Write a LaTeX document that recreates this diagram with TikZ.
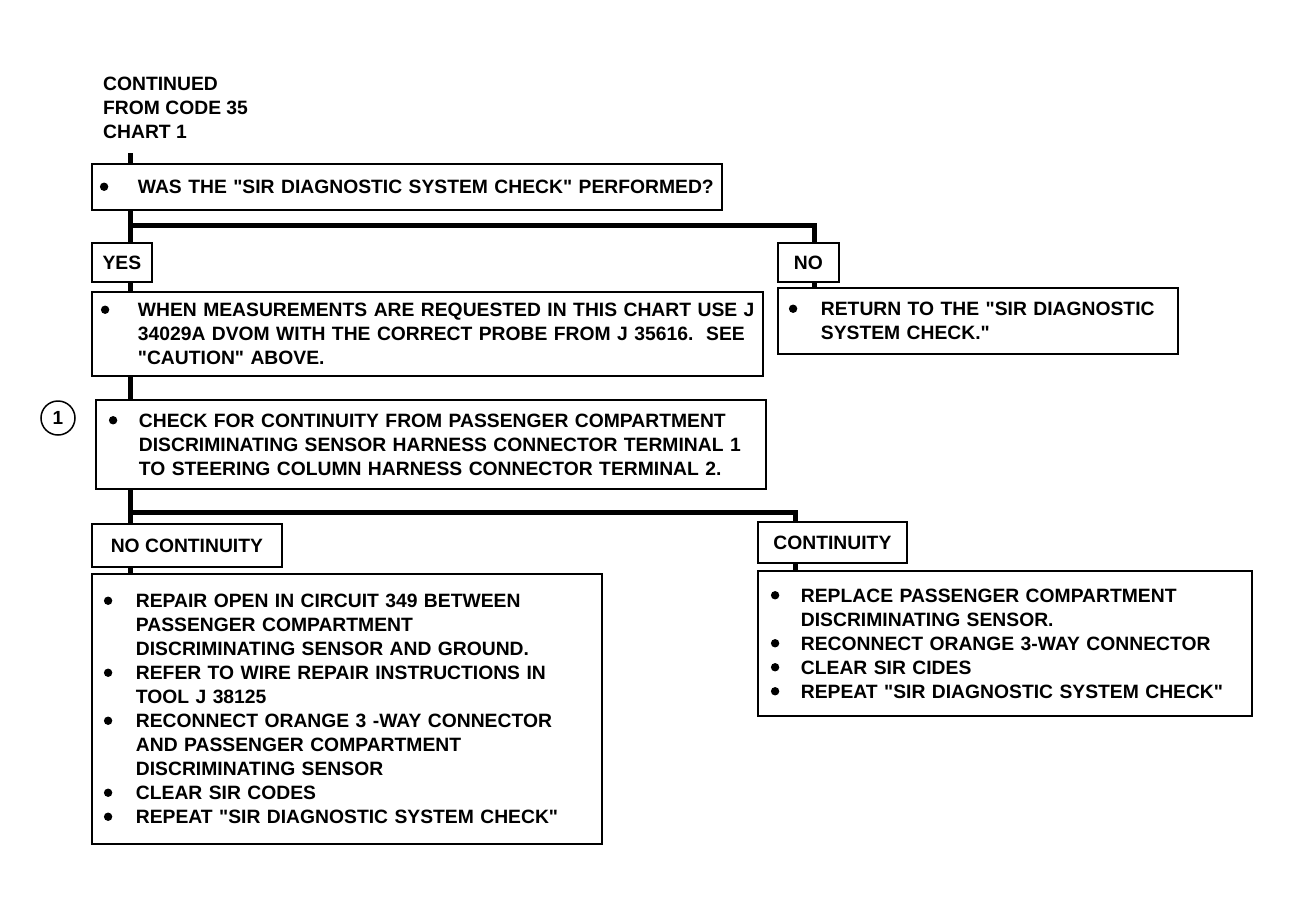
\documentclass[tikz,border=0pt]{standalone}
\usepackage{fontspec}
\setmainfont{Liberation Sans}
\newcommand\txt{\bfseries\fontsize{19.3}{24}\selectfont}
\newcommand\bu[1]{\makebox[#1][l]{\tikz[baseline=0pt]\fill (4.2pt,6.8pt) circle[radius=4.2pt];}}
\newcommand\ind[1]{\hspace*{#1}}
\newcommand\qq{\textquotedbl}
\begin{document}
\begin{tikzpicture}[x=1pt,y=-1pt]
\tikzset{
  box/.style={draw, line width=1.8pt, rectangle, anchor=north west, align=left, inner ysep=0pt, font=\txt},
  lab/.style={draw, line width=1.8pt, rectangle, anchor=north west, inner sep=0pt, font=\txt},
  trunk/.style={line width=5pt},
}
\fill[white] (0,0) rectangle (1290,921);
\useasboundingbox (0,0) rectangle (1290,921);

% header
\node[anchor=north west, inner sep=0pt, align=left, font=\txt] (head) at (103,77)
  {CONTINUED\\FROM CODE 35\\CHART 1};

% boxes
\node[box, inner xsep=8pt, text width=614pt, minimum height=46pt] (q1) at (91,163)
  {\mbox{\bu{38pt}WAS THE \qq SIR DIAGNOSTIC SYSTEM CHECK\qq{} PERFORMED?}};
\node[lab, minimum width=60pt, minimum height=39pt] (yes) at (91,242) {YES};
\node[lab, minimum width=61pt, minimum height=39pt] (no) at (777,242) {NO};
\node[box, inner xsep=9pt, text width=653pt, minimum height=84pt] (q2) at (91,291)
  {\mbox{\bu{37pt}WHEN MEASUREMENTS ARE REQUESTED IN THIS CHART USE J}\\
   \mbox{\ind{37pt}34029A DVOM WITH THE CORRECT PROBE FROM J 35616.\ \ SEE}\\
   \mbox{\ind{37pt}\qq CAUTION\qq{} ABOVE.}};
\node[box, inner xsep=11pt, text width=378pt, minimum height=66pt] (ret) at (777,287)
  {\mbox{\bu{32pt}RETURN TO THE \qq SIR DIAGNOSTIC}\\
   \mbox{\ind{32pt}SYSTEM CHECK.\qq}};
\node[draw, circle, line width=1.5pt, minimum size=34pt, inner sep=0pt,
      font=\bfseries\fontsize{19}{19}\selectfont] (c1) at (58,418) {1};
\node[box, inner xsep=13pt, text width=644pt, minimum height=89pt] (q3) at (95,399)
  {\mbox{\bu{30pt}CHECK FOR CONTINUITY FROM PASSENGER COMPARTMENT}\\
   \mbox{\ind{30pt}DISCRIMINATING SENSOR HARNESS CONNECTOR TERMINAL 1}\\
   \mbox{\ind{30pt}TO STEERING COLUMN HARNESS CONNECTOR TERMINAL 2.}};
\node[lab, minimum width=190pt, minimum height=43pt] (noc) at (91,523) {NO CONTINUITY};
\node[lab, minimum width=149pt, minimum height=41pt] (con) at (757,521) {CONTINUITY};
\node[box, inner xsep=12pt, text width=486pt, minimum height=270pt] (rep) at (91,573)
  {\mbox{\bu{32pt}REPAIR OPEN IN CIRCUIT 349 BETWEEN}\\
   \mbox{\ind{32pt}PASSENGER COMPARTMENT}\\
   \mbox{\ind{32pt}DISCRIMINATING SENSOR AND GROUND.}\\
   \mbox{\bu{32pt}REFER TO WIRE REPAIR INSTRUCTIONS IN}\\
   \mbox{\ind{32pt}TOOL J 38125}\\
   \mbox{\bu{32pt}RECONNECT ORANGE 3 -WAY CONNECTOR}\\
   \mbox{\ind{32pt}AND PASSENGER COMPARTMENT}\\
   \mbox{\ind{32pt}DISCRIMINATING SENSOR}\\
   \mbox{\bu{32pt}CLEAR SIR CODES}\\
   \mbox{\bu{32pt}REPEAT \qq SIR DIAGNOSTIC SYSTEM CHECK\qq}\\[6pt]};
\node[box, inner xsep=13pt, text width=468pt, minimum height=145pt] (repl) at (757,570)
  {\mbox{\bu{30pt}REPLACE PASSENGER COMPARTMENT}\\
   \mbox{\ind{30pt}DISCRIMINATING SENSOR.}\\
   \mbox{\bu{30pt}RECONNECT ORANGE 3-WAY CONNECTOR}\\
   \mbox{\bu{30pt}CLEAR SIR CIDES}\\
   \mbox{\bu{30pt}REPEAT \qq SIR DIAGNOSTIC SYSTEM CHECK\qq}};

% connector coordinates
\coordinate (s0) at (130,153);
\coordinate (xa) at (130,0);
\coordinate (xn) at (814,0);
\coordinate (xc) at (795,0);
\coordinate (b1) at (0,225);
\coordinate (b2) at (0,512);

% connectors
\draw[trunk] (s0) -- (s0 |- q1.north);
\draw[trunk] (q1.south -| xa) -- (yes.north -| xa);
\draw[trunk] (xa |- b1) -- (xn |- b1) -- (no.north -| xn);
\draw[trunk] (yes.south -| xa) -- (q2.north -| xa);
\draw[trunk] (no.south -| xn) -- (ret.north -| xn);
\draw[trunk] (q2.south -| xa) -- (q3.north -| xa);
\draw[trunk] (q3.south -| xa) -- (noc.north -| xa);
\draw[trunk] (xa |- b2) -- (xc |- b2) -- (con.north -| xc);
\draw[trunk] (noc.south -| xa) -- (rep.north -| xa);
\draw[trunk] (con.south -| xc) -- (repl.north -| xc);
\end{tikzpicture}
\end{document}
